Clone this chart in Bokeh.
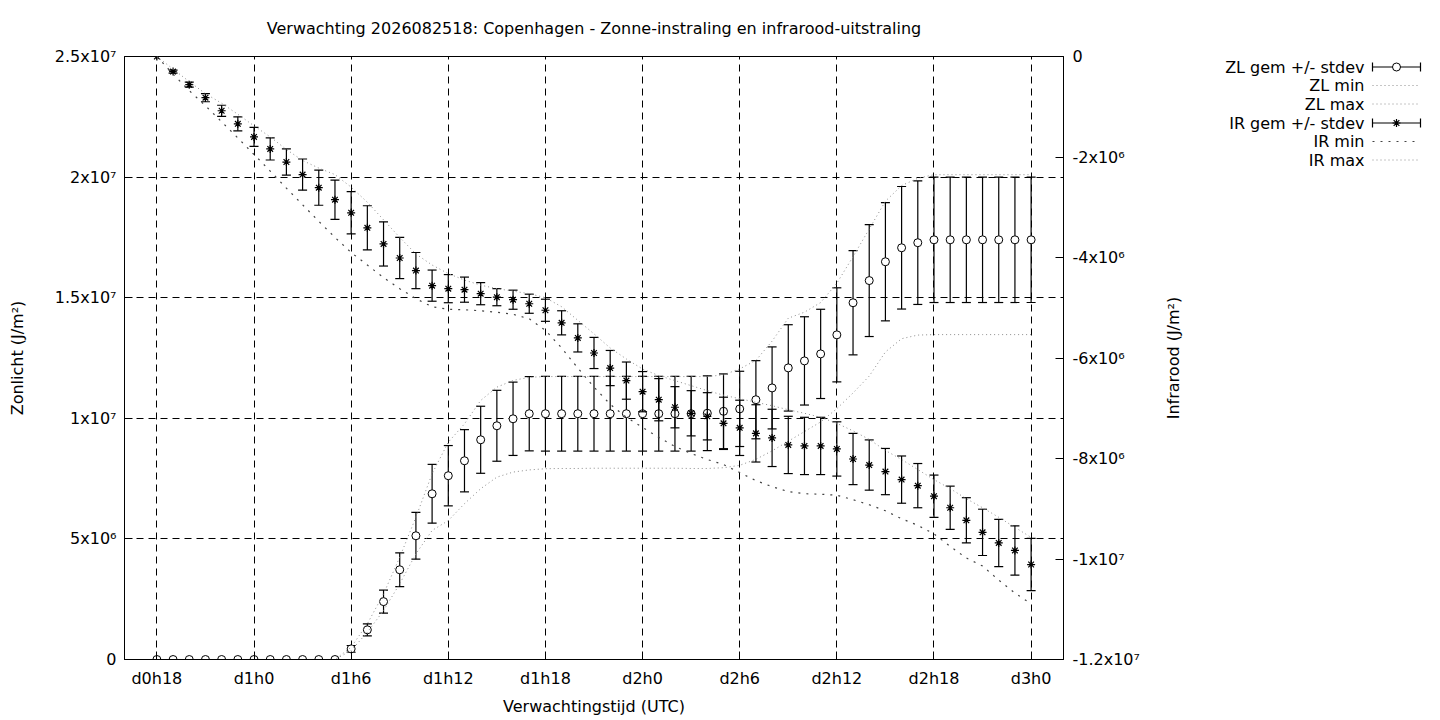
import numpy as np
from bokeh.plotting import figure
from bokeh.models import Range1d, LinearAxis, FixedTicker, ColumnDataSource, Title
from bokeh.layouts import row
from bokeh.embed import file_html
from bokeh.resources import INLINE
from bokeh.core.properties import value

FONT = "DejaVu Sans"
FS = "16px"

# forecast hours since d0h0
hours = list(range(18, 73))

# Zonlicht (J/m2), in units of 1e6
zl_mean = [0, 0, 0, 0, 0, 0, 0, 0, 0, 0, 0, 0,
           0.44, 1.23, 2.40, 3.72, 5.13, 6.87, 7.62, 8.24, 9.11, 9.69, 9.98, 10.19,
           10.19, 10.19, 10.19, 10.19, 10.19, 10.19, 10.19, 10.19, 10.19, 10.19, 10.21,
           10.29, 10.39, 10.77, 11.26, 12.09, 12.38, 12.67, 13.46, 14.79, 15.71, 16.49, 17.07, 17.28,
           17.40, 17.40, 17.40, 17.40, 17.40, 17.40, 17.40]
zl_std = [0, 0, 0, 0, 0, 0, 0, 0, 0, 0, 0, 0,
          0.14, 0.25, 0.48, 0.70, 0.97, 1.22, 1.25, 1.29, 1.39, 1.47, 1.52, 1.54,
          1.55, 1.55, 1.55, 1.55, 1.55, 1.55, 1.55, 1.55, 1.55, 1.55, 1.55,
          1.55, 1.56, 1.62, 1.70, 1.79, 1.83, 1.85, 1.95, 2.16, 2.32, 2.45, 2.54, 2.56,
          2.60, 2.60, 2.60, 2.60, 2.60, 2.60, 2.60]
zl_min = [0, 0, 0, 0, 0, 0, 0, 0, 0, 0, 0, 0,
          0.37, 1.13, 2.03, 3.14, 4.38, 5.35, 5.76, 6.46, 7.08, 7.56, 7.77, 7.86,
          7.91, 7.92, 7.92, 7.93, 7.93, 7.93, 7.93, 7.93, 7.93, 7.92, 7.92,
          7.95, 8.05, 8.30, 8.65, 9.05, 9.45, 9.85, 10.40, 11.05, 11.75, 12.75, 13.30, 13.45,
          13.47, 13.47, 13.47, 13.47, 13.47, 13.47, 13.47]
zl_max = [0, 0, 0, 0, 0, 0, 0, 0, 0, 0, 0, 0,
          0.51, 1.48, 2.72, 4.24, 5.90, 7.70, 9.01, 9.77, 10.74, 11.29, 11.57, 11.70,
          11.73, 11.73, 11.73, 11.73, 11.73, 11.73, 11.73, 11.73, 11.73, 11.73, 11.73,
          11.80, 12.05, 12.40, 13.20, 14.15, 14.40, 14.80, 15.60, 16.70, 17.85, 19.00, 19.65, 19.95,
          20.10, 20.10, 20.10, 20.10, 20.10, 20.10, 20.10]

# Infrarood (J/m2), in units of 1e6
ir_mean = [0, -0.30, -0.56, -0.82, -1.08, -1.34, -1.60, -1.84, -2.10, -2.35,
           -2.61, -2.85, -3.11, -3.41, -3.73, -4.01, -4.26, -4.56, -4.62, -4.64,
           -4.72, -4.79, -4.84, -4.92, -5.05, -5.30, -5.60, -5.90, -6.20, -6.45,
           -6.67, -6.83, -6.98, -7.10, -7.16, -7.30, -7.39, -7.50, -7.59, -7.73,
           -7.75, -7.75, -7.81, -8.01, -8.13, -8.26, -8.42, -8.54, -8.75, -8.98,
           -9.23, -9.47, -9.68, -9.83, -10.11]
ir_std = [0, 0.03, 0.05, 0.08, 0.11, 0.14, 0.19, 0.22, 0.26, 0.31,
          0.35, 0.39, 0.42, 0.44, 0.44, 0.41, 0.36, 0.31, 0.28, 0.25,
          0.22, 0.17, 0.19, 0.19, 0.22, 0.24, 0.28, 0.31, 0.35, 0.37,
          0.40, 0.42, 0.41, 0.45, 0.47, 0.52, 0.55, 0.57, 0.57, 0.57,
          0.57, 0.57, 0.54, 0.51, 0.50, 0.46, 0.47, 0.44, 0.42, 0.43,
          0.45, 0.46, 0.47, 0.49, 0.52]
ir_min = [0, -0.35, -0.68, -0.98, -1.30, -1.62, -1.95, -2.28, -2.62, -2.95,
          -3.28, -3.60, -3.90, -4.15, -4.40, -4.62, -4.82, -4.98, -5.03, -5.04,
          -5.06, -5.09, -5.13, -5.22, -5.45, -5.80, -6.20, -6.58, -6.92, -7.18,
          -7.38, -7.58, -7.76, -7.90, -8.02, -8.12, -8.28, -8.44, -8.56, -8.66,
          -8.70, -8.71, -8.73, -8.82, -8.92, -9.04, -9.20, -9.33, -9.50, -9.75,
          -9.98, -10.14, -10.42, -10.68, -10.89]
ir_max = [0, -0.25, -0.50, -0.74, -0.93, -1.15, -1.38, -1.60, -1.85, -2.07,
          -2.22, -2.35, -2.60, -2.90, -3.25, -3.60, -3.93, -4.15, -4.32, -4.45,
          -4.55, -4.62, -4.67, -4.72, -4.80, -4.98, -5.25, -5.52, -5.80, -6.02,
          -6.22, -6.35, -6.45, -6.55, -6.65, -6.74, -6.81, -6.88, -6.95, -7.03,
          -7.10, -7.18, -7.30, -7.45, -7.62, -7.84, -8.02, -8.22, -8.42, -8.60,
          -8.80, -8.98, -9.17, -9.37, -9.57]

tick_hours = [18, 24, 30, 36, 42, 48, 54, 60, 66, 72]
tick_labels = ["d0h18", "d1h0", "d1h6", "d1h12", "d1h18", "d2h0", "d2h6", "d2h12", "d2h18", "d3h0"]
zl_ticks = [0, 5000000, 10000000, 15000000, 20000000, 25000000]
zl_tick_labels = ["0", "5x10\u2076", "1x10\u2077", "1.5x10\u2077", "2x10\u2077", "2.5x10\u2077"]
ir_ticks = [0, -2000000, -4000000, -6000000, -8000000, -10000000, -12000000]
ir_tick_labels = ["0", "-2x10\u2076", "-4x10\u2076", "-6x10\u2076", "-8x10\u2076", "-1x10\u2077", "-1.2x10\u2077"]
legend_labels = ["ZL gem +/- stdev", "ZL min", "ZL max", "IR gem +/- stdev", "IR min", "IR max"]

title = "Verwachting 2026082518: Copenhagen - Zonne-instraling en infrarood-uitstraling"

S = 1e6
zl = np.array(zl_mean) * S
zls = np.array(zl_std) * S
ir = np.array(ir_mean) * S
irs = np.array(ir_std) * S

zl_src = ColumnDataSource(dict(x=hours, y=zl, lo=zl - zls, hi=zl + zls,
                               mn=np.array(zl_min) * S, mx=np.array(zl_max) * S))
ir_src = ColumnDataSource(dict(x=hours, y=ir, lo=ir - irs, hi=ir + irs,
                               mn=np.array(ir_min) * S, mx=np.array(ir_max) * S))

# frame in page pixels: left 124, top 56, 939 x 603
FL, FT, FW, FH = 124, 56, 939, 603
W, H = 1150, 720
p = figure(width=W, height=H, x_range=Range1d(16, 74), y_range=Range1d(0, 2.5e7),
           output_backend="svg", toolbar_location=None,
           min_border_left=FL, min_border_right=W - FL - FW, min_border_top=FT,
           min_border_bottom=H - FT - FH)
p.extra_y_ranges = {"ir": Range1d(-1.2e7, 0)}

p.title.text = title
p.title.align = "center"
p.title.text_font = FONT
p.title.text_font_size = FS
p.title.text_font_style = "normal"
p.title.text_color = "black"
p.title.standoff = 10
# small empty spacer between the title and the frame
p.add_layout(Title(text=" ", text_font_size="6px", standoff=6), "above")

p.outline_line_color = "black"
p.outline_line_width = 1
p.outline_line_alpha = 1

ax_r = LinearAxis(y_range_name="ir")
p.add_layout(ax_r, "right")

for ax in [p.xaxis[0], p.yaxis[0], ax_r]:
    ax.major_label_text_font = FONT
    ax.major_label_text_font_size = FS
    ax.major_label_text_color = "black"
    ax.axis_label_text_font = FONT
    ax.axis_label_text_font_size = FS
    ax.axis_label_text_font_style = "normal"
    ax.axis_label_text_color = "black"
    ax.axis_line_color = "black"
    ax.major_tick_line_color = "black"
    ax.major_tick_in = 8
    ax.major_tick_out = 0
    ax.minor_tick_line_color = None

xa = p.xaxis[0]
xa.ticker = FixedTicker(ticks=tick_hours)
xa.major_label_overrides = {h: t for h, t in zip(tick_hours, tick_labels)}
xa.major_label_standoff = 9
xa.axis_label = "Verwachtingstijd (UTC)"
xa.axis_label_standoff = 6

ya = p.yaxis[0]
ya.ticker = FixedTicker(ticks=zl_ticks)
ya.major_label_overrides = {v: t for v, t in zip(zl_ticks, zl_tick_labels)}
ya.major_label_standoff = 8
ya.axis_label = "Zonlicht (J/m\u00b2)"
ya.axis_label_standoff = 25

ax_r.ticker = FixedTicker(ticks=ir_ticks)
ax_r.major_label_overrides = {v: t for v, t in zip(ir_ticks, ir_tick_labels)}
ax_r.major_label_standoff = 9

p.xgrid.ticker = FixedTicker(ticks=tick_hours)
p.ygrid.ticker = FixedTicker(ticks=zl_ticks)
for g in [p.xgrid[0], p.ygrid[0]]:
    g.grid_line_color = "black"
    g.grid_line_dash = "7 5"
    g.grid_line_width = 1

LW = 1.2
# ZL: error bars + circles
p.segment(x0="x", y0="lo", x1="x", y1="hi", source=zl_src, line_color="black", line_width=LW)
p.scatter(x="x", y="lo", source=zl_src, marker="dash", size=9, line_color="black", line_width=LW)
p.scatter(x="x", y="hi", source=zl_src, marker="dash", size=9, line_color="black", line_width=LW)
p.scatter(x="x", y="y", source=zl_src, marker="circle", size=8, line_color="black",
          fill_color="white", line_width=1)
p.line(x="x", y="mn", source=zl_src, line_color="#8c8c8c", line_dash="1 3", line_width=1)
p.line(x="x", y="mx", source=zl_src, line_color="#8c8c8c", line_dash="1 3", line_width=1)

# IR: error bars + asterisks (right axis)
p.segment(x0="x", y0="lo", x1="x", y1="hi", source=ir_src, line_color="black", line_width=LW,
          y_range_name="ir")
p.scatter(x="x", y="lo", source=ir_src, marker="dash", size=9, line_color="black", line_width=LW,
          y_range_name="ir")
p.scatter(x="x", y="hi", source=ir_src, marker="dash", size=9, line_color="black", line_width=LW,
          y_range_name="ir")
p.scatter(x="x", y="y", source=ir_src, marker="asterisk", size=8, line_color="black",
          line_width=1.2, y_range_name="ir")
p.line(x="x", y="mn", source=ir_src, line_color="#444444", line_dash="2 6", line_width=1.2,
       y_range_name="ir")
p.line(x="x", y="mx", source=ir_src, line_color="#8c8c8c", line_dash="1 3", line_width=1,
       y_range_name="ir")

# ---- side panel: right-axis title and gnuplot-style key (label, then sample) ----
# its frame is aligned with the main frame (page y 56..659), so ranges are page pixels
LWID = 1440 - W
lg = figure(width=LWID, height=H, x_range=Range1d(W, 1440), y_range=Range1d(FT + FH, FT),
            output_backend="svg", toolbar_location=None, min_border=0,
            x_axis_location=None, y_axis_location=None)
lg.outline_line_color = None
lg.xgrid.grid_line_color = None
lg.ygrid.grid_line_color = None

lg.text(x=[1173], y=[FT + FH / 2], text=["Infrarood (J/m\u00b2)"], angle=np.pi / 2,
        text_align="center", text_baseline="middle",
        text_font=value(FONT), text_font_size=value(FS), text_color="black")

rows_y = [66.5, 85, 103.5, 122.5, 141, 159.5]
tx = 1364
sx0, sx1 = 1372, 1420
sxm = (sx0 + sx1) / 2
lg.text(x=[tx] * 6, y=rows_y, text=legend_labels, text_align="right", text_baseline="middle",
        text_font=value(FONT), text_font_size=value(FS), text_color="black")
for i in (0, 3):
    yy = rows_y[i]
    lg.segment(x0=[sx0], y0=[yy], x1=[sx1], y1=[yy], line_color="black", line_width=LW)
    lg.segment(x0=[sx0, sx1], y0=[yy - 4.5, yy - 4.5], x1=[sx0, sx1], y1=[yy + 4.5, yy + 4.5],
               line_color="black", line_width=LW)
lg.scatter(x=[sxm], y=[rows_y[0]], marker="circle", size=8, line_color="black", fill_color="white")
lg.scatter(x=[sxm], y=[rows_y[3]], marker="asterisk", size=8, line_color="black", line_width=1.2)
for i, (col, dash, lw) in zip([1, 2, 4, 5], [("#8c8c8c", "1 3", 1), ("#8c8c8c", "1 3", 1),
                                              ("#444444", "2 6", 1.2), ("#8c8c8c", "1 3", 1)]):
    lg.line(x=[sx0, sx1], y=[rows_y[i], rows_y[i]], line_color=col, line_dash=dash, line_width=lw)

layout = row(p, lg)
open("out.html", "w").write(file_html(layout, INLINE))
